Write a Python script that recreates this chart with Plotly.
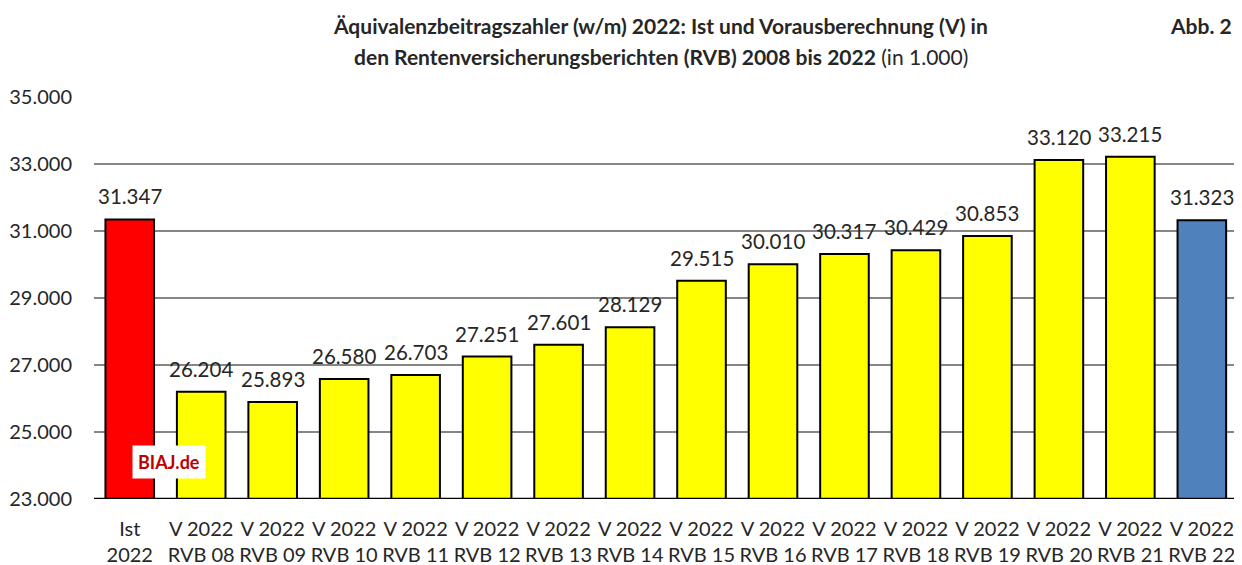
import plotly.graph_objects as go

categories = ["Ist<br>2022", "V 2022<br>RVB 08", "V 2022<br>RVB 09", "V 2022<br>RVB 10",
              "V 2022<br>RVB 11", "V 2022<br>RVB 12", "V 2022<br>RVB 13", "V 2022<br>RVB 14",
              "V 2022<br>RVB 15", "V 2022<br>RVB 16", "V 2022<br>RVB 17", "V 2022<br>RVB 18",
              "V 2022<br>RVB 19", "V 2022<br>RVB 20", "V 2022<br>RVB 21", "V 2022<br>RVB 22"]
values = [31347, 26204, 25893, 26580, 26703, 27251, 27601, 28129, 29515,
          30010, 30317, 30429, 30853, 33120, 33215, 31323]
colors = ["#FF0000"] + ["#FFFF00"] * 14 + ["#4F81BD"]

FONT = "Lato"
TXT = "#262626"


def de_fmt(v):
    return f"{v:,.0f}".replace(",", ".")


fig = go.Figure(go.Bar(
    x=categories, y=values,
    marker=dict(color=colors, line=dict(color="#000000", width=2)),
    cliponaxis=False, width=0.68, hoverinfo="x+y",
))

for c, v in zip(categories, values):
    fig.add_annotation(x=c, y=v, xref="x", yref="y", text=de_fmt(v),
                       showarrow=False, yanchor="bottom", yshift=9,
                       font=dict(size=20.5, family=FONT, color=TXT))

fig.update_layout(
    width=1226, height=557,
    margin=dict(l=86, r=0, t=89, b=66),
    paper_bgcolor="white", plot_bgcolor="white",
    separators=",.",
    showlegend=False,
    font=dict(family=FONT, size=20, color=TXT),
    xaxis=dict(showgrid=False, tickfont=dict(size=20, family=FONT, color=TXT),
               ticks="", showline=False, ticklabelstandoff=16, automargin=False,
               range=[-0.5, 15.45]),
    yaxis=dict(range=[23000, 35000], tick0=23000, dtick=2000, tickformat=",.0f",
               showgrid=True, gridcolor="#868686", gridwidth=2,
               zeroline=False, showline=False, ticks="", automargin=False,
               ticklabelstandoff=21,
               tickfont=dict(size=20, family=FONT, color=TXT)),
)

fig.add_annotation(text="<b>Äquivalenzbeitragszahler (w/m) 2022: Ist und Vorausberechnung (V) in</b>",
                   xref="paper", yref="paper", x=0.497, y=1.177, yanchor="middle",
                   showarrow=False, font=dict(size=21, family=FONT, color=TXT))
fig.add_annotation(text="<b>den Rentenversicherungsberichten (RVB) 2008 bis 2022</b> (in 1.000)",
                   xref="paper", yref="paper", x=0.497, y=1.10, yanchor="middle",
                   showarrow=False, font=dict(size=21, family=FONT, color=TXT))
fig.add_annotation(text="<b>Abb. 2</b>", xref="paper", yref="paper", x=1.0, y=1.177,
                   xanchor="right", yanchor="middle", showarrow=False,
                   font=dict(size=21, family=FONT, color=TXT))
fig.add_annotation(text="<b>BIAJ.de</b>", xref="paper", yref="paper", x=0.066, y=0.092,
                   xanchor="center", yanchor="middle", showarrow=False,
                   bgcolor="white", borderpad=5,
                   font=dict(size=18, family=FONT, color="#C00000"))
fig.add_shape(type="line", xref="paper", yref="y", x0=0, x1=1, y0=23000, y1=23000,
              line=dict(color="#000000", width=2.5))

fig.write_html("out.html")
